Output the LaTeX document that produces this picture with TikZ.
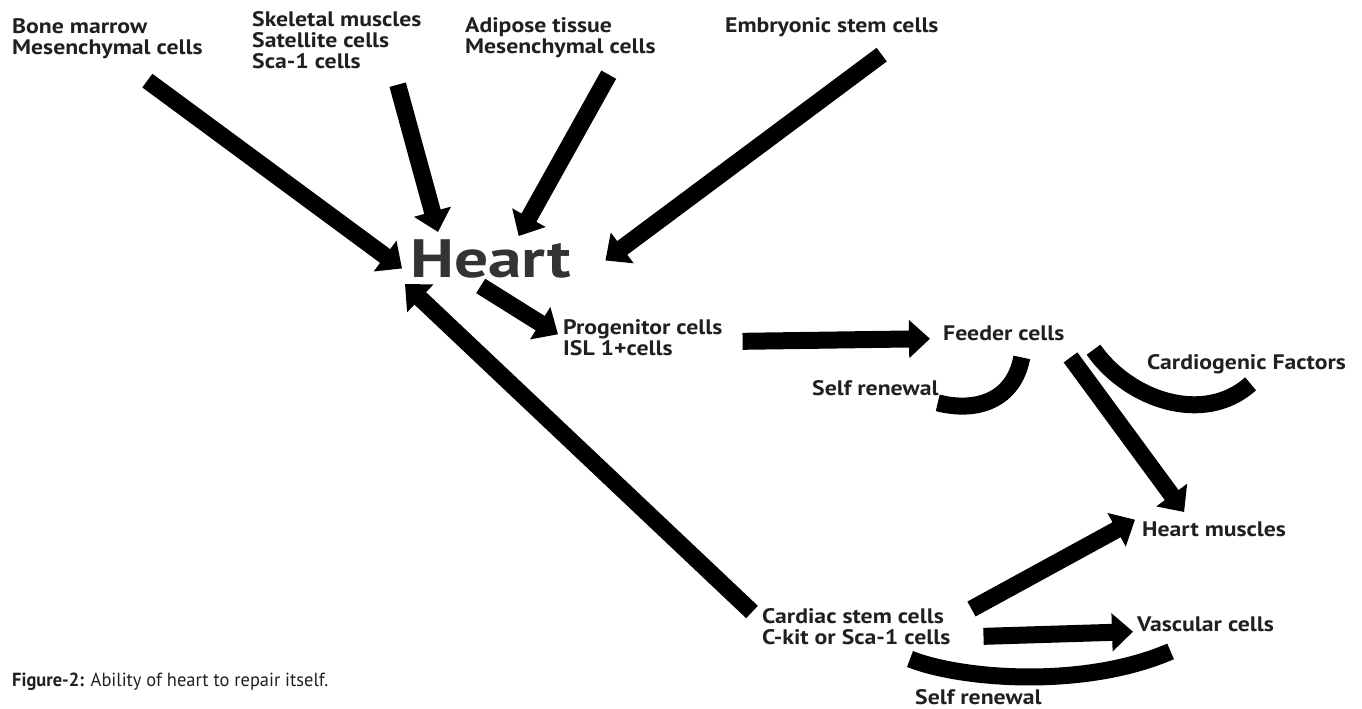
\documentclass[tikz,border=0pt]{standalone}
\usepackage{fontspec}
\usepackage{tikz}
\usetikzlibrary{arrows.meta}
\setmainfont{PT Sans}
\newfontfamily\labelfont[FakeStretch=1.13]{PT Sans}
\newfontfamily\heartfont[FakeStretch=1.25]{PT Sans}
\newfontfamily\captionfont[FakeStretch=0.97]{PT Sans}
\definecolor{ink}{RGB}{35,31,32}
\definecolor{heartgrey}{RGB}{51,51,51}

\begin{document}
\begin{tikzpicture}[x=1pt,y=-1pt,
    lbl/.style={anchor=north west,inner sep=0pt,align=left,text=ink,
      font=\labelfont\bfseries\fontsize{21}{21}\selectfont},
    fat/.style={line width=17pt,-{Triangle[width=37pt,length=21pt]}},
    band/.style={line width=17pt}]
  \useasboundingbox (0,0) rectangle (1362,709);

  % Sources
  \node[lbl] (bone) at (12,18) {Bone marrow\\Mesenchymal cells};
  \node[lbl] (skel) at (252,11) {Skeletal muscles\\Satellite cells\\Sca-1 cells};
  \node[lbl] (adip) at (465,17) {Adipose tissue\\Mesenchymal cells};
  \node[lbl] (embr) at (725,17) {Embryonic stem cells};
  \node[anchor=north west,inner sep=0pt,text=heartgrey,
    font=\heartfont\bfseries\fontsize{54}{54}\selectfont] (heart) at (410,239) {Heart};

  % Progeny
  \node[lbl] (prog) at (563,319) {Progenitor cells\\ISL 1+cells};
  \node[lbl] (feed) at (943,326) {Feeder cells};
  \node[lbl] (selfa) at (812,380) {Self renewal};
  \node[lbl] (cardio) at (1147,354) {Cardiogenic Factors};
  \node[lbl] (musc) at (1142,522) {Heart muscles};
  \node[lbl] (card) at (762,608) {Cardiac stem cells\\C-kit or Sca-1 cells};
  \node[lbl] (vasc) at (1137,617) {Vascular cells};
  \node[lbl] (selfb) at (915,689) {Self renewal};
  \node[anchor=north west,inner sep=0pt,text=ink,
    font=\captionfont\fontsize{19}{19}\selectfont] (capt) at (12,673)
    {\textbf{Figure-2:} Ability of heart to repair itself.};

  % Into the heart
  \draw[fat] ([shift={(40,22)}]bone.south) -- ([shift={(-8,10)}]heart.west);
  \draw[fat] ([shift={(-24,16)}]skel.south east) -- ([shift={(28,-7)}]heart.north west);
  \draw[fat] ([shift={(-47,17)}]adip.south east) -- ([shift={(28,-3)}]heart.north);
  \draw[fat] ([shift={(-57,18)}]embr.south east) -- ([shift={(34,2)}]heart.east);
  \draw[fat] ([shift={(-10,4)}]card.north west) -- ([shift={(-5,6)}]heart.south west);

  % Out of the heart
  \draw[fat] ([shift={(-10,8)}]heart.south) -- ([shift={(-5,-3)}]prog.west);
  \draw[fat] ([shift={(20,4)}]prog.east) -- ([shift={(-13,5)}]feed.west);
  \draw[fat] ([shift={(6,16)}]feed.south east) -- ([shift={(-30,-10)}]musc.north);
  \draw[fat] ([shift={(21,1)}]card.north east) -- ([shift={(-7,-10)}]musc.west);
  \draw[fat] ([shift={(33,10)}]card.east) -- ([shift={(-4,7)}]vasc.west);

  % Renewal and factors
  \draw[band] ([shift={(18,16)}]feed.south) .. controls +(-8,43) and +(39,10) .. ([shift={(-1,15)}]selfa.east);
  \draw[band] ([shift={(29,16)}]feed.east) .. controls +(35,50) and +(-47,42) .. ([shift={(4,10)}]cardio.south);
  \draw[band] ([shift={(-5,-30)}]selfb.north west) .. controls +(50,20) and +(-88,38) .. ([shift={(-35,19)}]vasc.south);
\end{tikzpicture}
\end{document}
